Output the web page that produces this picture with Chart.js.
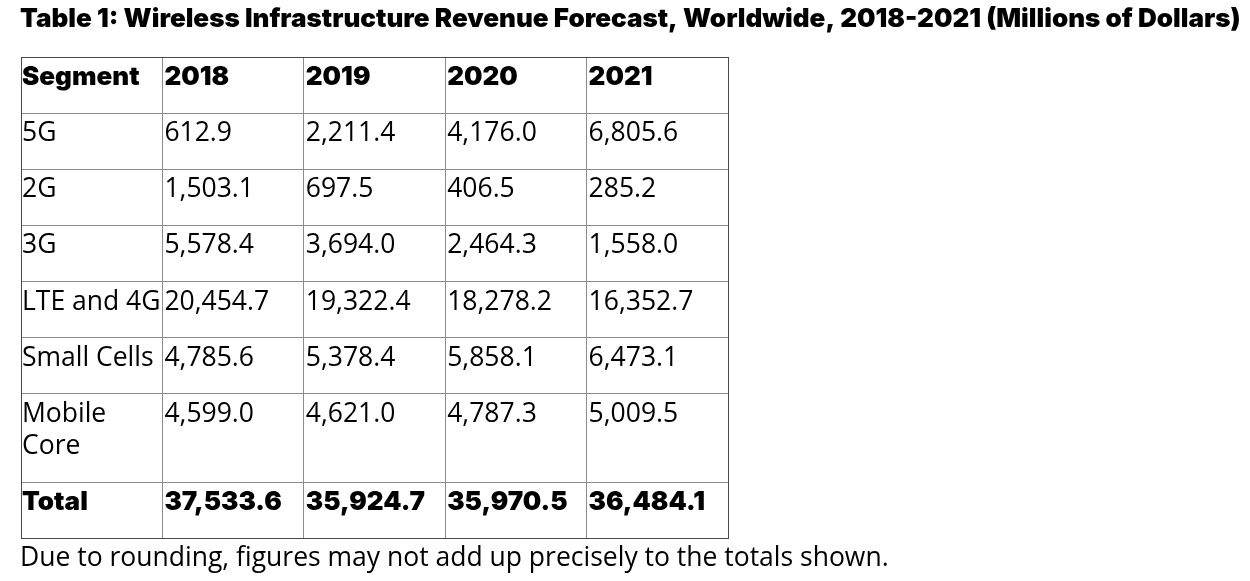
<!DOCTYPE html>
<html>
<head>
<meta charset="utf-8">
<script src="https://cdn.jsdelivr.net/npm/chart.js@4.4.0/dist/chart.umd.min.js"></script>
<style>
  html, body { margin: 0; padding: 0; background: #fff; }
  #wrap { width: 1250px; height: 581px; }
</style>
</head>
<body>
<div id="wrap"><canvas id="chart"></canvas></div>
<script>
const titleText = "Table 1: Wireless Infrastructure Revenue Forecast, Worldwide, 2018-2021 (Millions of Dollars)";
const noteText = "Due to rounding, figures may not add up precisely to the totals shown.";
const headerLabel = "Segment";
const years = ["2018", "2019", "2020", "2021"];
const segments = ["5G", "2G", "3G", "LTE and 4G", "Small Cells", "Mobile Core"];
const rev5G = [612.9, 2211.4, 4176.0, 6805.6];
const rev2G = [1503.1, 697.5, 406.5, 285.2];
const rev3G = [5578.4, 3694.0, 2464.3, 1558.0];
const revLTE = [20454.7, 19322.4, 18278.2, 16352.7];
const revSmallCells = [4785.6, 5378.4, 5858.1, 6473.1];
const revMobileCore = [4599.0, 4621.0, 4787.3, 5009.5];
const totalLabel = "Total";
const totals = [37533.6, 35924.7, 35970.5, 36484.1];

const bodyFamily = "'Open Sans', 'Noto Sans', sans-serif";
const boldFamily = "Inter, 'Noto Sans', sans-serif";
const gridColor = "#8c8c8c";
const edgeColor = "#4a4a4a";

const meas = document.createElement("canvas").getContext("2d");
function textW(font, t) { meas.font = font; return meas.measureText(t).width; }
const bodySize = 26.5;
// title set as wide as in the picture
const titleSize = 24 * 1221 / textW("900 24px " + boldFamily, titleText);
const bodyFont = bodySize + "px " + bodyFamily;
const boldFont = "900 " + titleSize + "px " + boldFamily;

const fmt = v => v.toLocaleString("en-US", { minimumFractionDigits: 1, maximumFractionDigits: 1 });
const seriesBySegment = [rev5G, rev2G, rev3G, revLTE, revSmallCells, revMobileCore];
const rows = [
  { bold: true, cells: [headerLabel, ...years] },
  ...segments.map((s, i) => ({ bold: false, cells: [s, ...seriesBySegment[i].map(fmt)] })),
  { bold: true, cells: [totalLabel, ...totals.map(fmt)] }
];

const colW = (728 - 21) / 5;
function wrap(text, font) {
  const words = text.split(" ");
  const out = [];
  let cur = "";
  words.forEach(wd => {
    const test = cur ? cur + " " + wd : wd;
    if (cur && textW(font, test) > colW) { out.push(cur); cur = wd; }
    else cur = test;
  });
  out.push(cur);
  return out;
}
rows.forEach(r => { r.lines = r.cells.map(c => wrap(c, r.bold ? boldFont : bodyFont)); });
const rowHeights = rows.map(r => 24 + 32 * Math.max(...r.lines.map(l => l.length)));
const yEdges = [0];
rowHeights.forEach(h => yEdges.push(yEdges[yEdges.length - 1] + h));
const yMax = yEdges[yEdges.length - 1];
const nCols = years.length + 1;

const cellText = {
  id: "cellText",
  afterDraw(chart) {
    const { ctx, scales: { x, y } } = chart;
    ctx.save();
    ctx.fillStyle = "#000";
    ctx.textAlign = "left";
    ctx.textBaseline = "alphabetic";
    rows.forEach((r, ri) => {
      ctx.font = r.bold ? boldFont : bodyFont;
      r.lines.forEach((lines, ci) => {
        const px = x.getPixelForValue(ci) + (ci === 0 ? 1 : 2);
        lines.forEach((ln, li) => {
          ctx.fillText(ln, px, y.getPixelForValue(yEdges[ri]) + 28 + li * 32);
        });
      });
    });
    ctx.restore();
  }
};

const edgeOr = (v, lo, hi) => (v === lo || v === hi) ? edgeColor : gridColor;
const titleTop = 19.5 - titleSize * 0.6;

let ctx = document.getElementById("chart").getContext("2d");
let chart = new Chart(ctx, {
  type: "scatter",
  data: { datasets: [] },
  options: {
    responsive: true,
    maintainAspectRatio: false,
    animation: false,
    layout: { padding: { left: 20, right: 0, top: 0, bottom: 0 } },
    plugins: {
      legend: { display: false },
      tooltip: { enabled: false },
      title: {
        display: true,
        text: titleText,
        align: "start",
        color: "#000",
        font: { family: boldFamily, size: titleSize, weight: "900", lineHeight: 1.2 },
        padding: { top: titleTop, bottom: 57 - titleTop - titleSize * 1.2 }
      },
      subtitle: {
        display: true,
        position: "bottom",
        text: noteText,
        align: "start",
        color: "#000",
        font: { family: bodyFamily, size: bodySize, weight: "normal", lineHeight: 1.2 },
        padding: { top: 4, bottom: 7 }
      }
    },
    scales: {
      x: {
        type: "linear",
        min: 0,
        max: nCols,
        afterBuildTicks: s => { s.ticks = Array.from({ length: nCols + 1 }, (_, i) => ({ value: i })); },
        afterFit: s => { s.height = 0; },
        ticks: { display: false },
        grid: { drawTicks: false, color: c => edgeOr(c.tick.value, 0, nCols) },
        border: { display: true, color: edgeColor }
      },
      y: {
        type: "linear",
        reverse: true,
        min: 0,
        max: yMax,
        afterBuildTicks: s => { s.ticks = yEdges.map(v => ({ value: v })); },
        afterFit: s => { s.width = 1; },
        ticks: { display: false },
        grid: { drawTicks: false, color: c => edgeOr(c.tick.value, 0, yMax) },
        border: { display: true, color: edgeColor }
      },
      yPad: {
        type: "linear",
        position: "right",
        afterFit: s => { s.width = 522; },
        ticks: { display: false },
        grid: { display: false, drawTicks: false },
        border: { display: false }
      }
    }
  },
  plugins: [cellText]
});
</script>
</body>
</html>
